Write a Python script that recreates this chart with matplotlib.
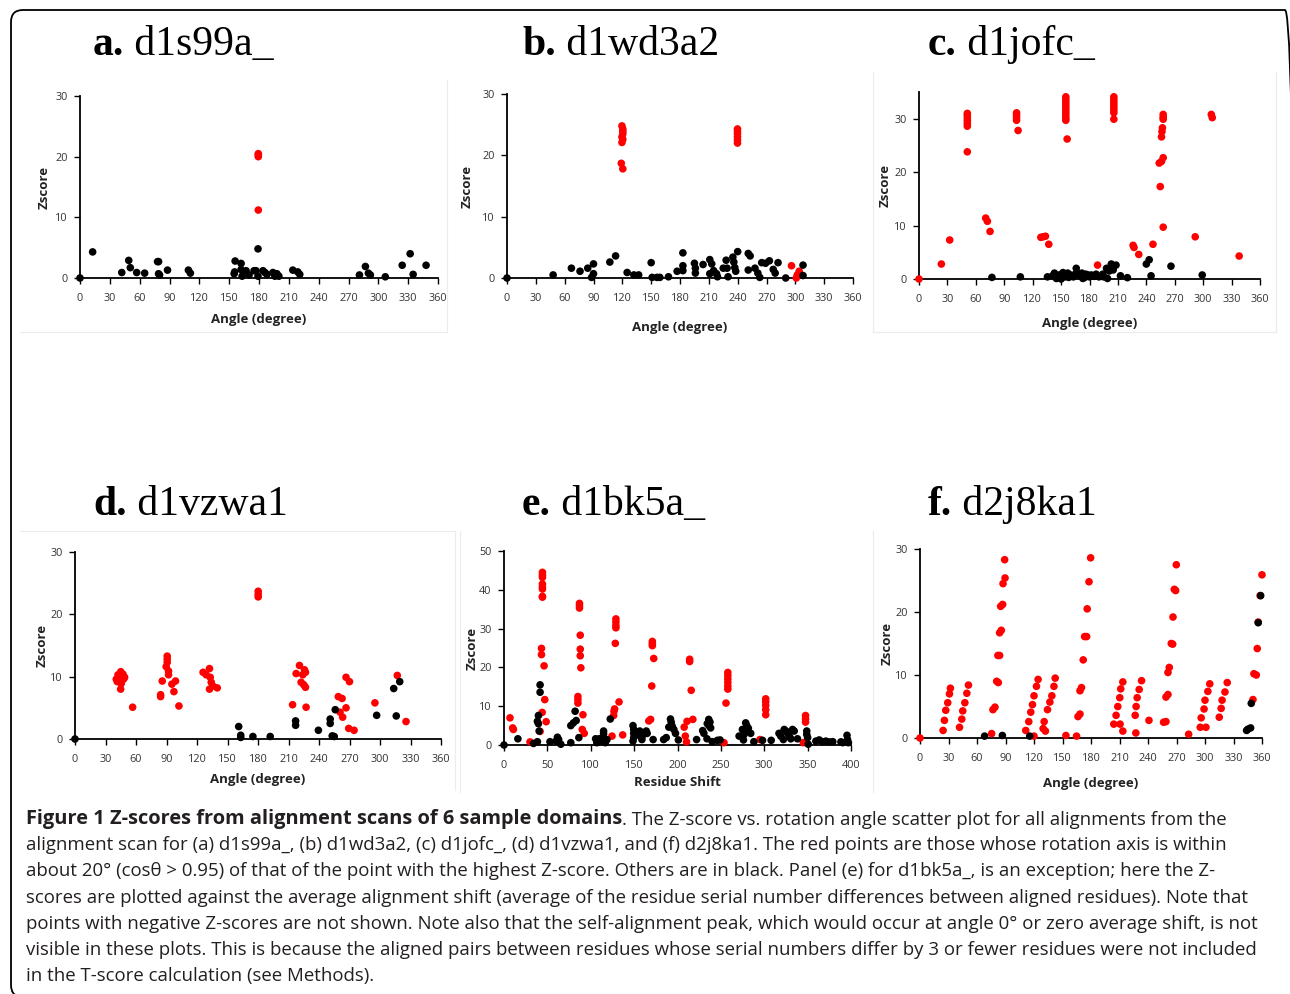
import matplotlib
matplotlib.use("Agg")
import matplotlib.pyplot as plt
from matplotlib.patches import FancyBboxPatch
from matplotlib.transforms import IdentityTransform

# ---- data ----
# panel a: d1s99a_
a_red_x = [179.3, 179.3, 179.3, 179.3]
a_red_y = [20.5, 20.3, 20.0, 11.2]
a_black_x = [0, 12.7, 42, 49, 50.6, 57, 65, 78, 79, 79, 80, 88, 109, 111, 155, 156, 155.5, 162, 162, 163,
             167, 170, 175, 177, 179, 179, 184, 186, 188, 194, 196, 198, 200, 214, 219, 221, 281, 287, 290, 292,
             307, 324, 332, 335, 348]
a_black_y = [0, 4.3, 0.9, 2.9, 1.7, 0.9, 0.8, 2.7, 2.7, 0.7, 0.5, 1.3, 1.3, 0.8, 0.7, 2.8, 1.0, 2.4, 1.4, 0.3,
             1.2, 0.5, 1.2, 1.2, 4.8, 0.3, 1.2, 0.9, 0.6, 0.9, 0.3, 0.7, 0.3, 1.3, 1.0, 0.6, 0.5, 1.9, 0.8, 0.5,
             0.2, 2.1, 4.0, 0.6, 2.1]

# panel b: d1wd3a2
b_red_x = [119.6, 120.5, 120.5, 120.5, 119.6, 120.5, 119.6, 118.9, 120.5,
           239.8, 239.8, 239.8, 239.8, 239.8, 239.8, 296, 304, 302, 301]
b_red_y = [24.8, 24.3, 23.9, 23.5, 23.0, 22.6, 22.1, 18.7, 17.8,
           24.3, 23.9, 23.5, 23.0, 22.5, 22.0, 2.0, 1.1, 0.5, 0.0]
b_black_x = [0, 48, 67, 76, 84, 90, 90, 88, 107, 113, 125, 132, 137, 150, 151, 156, 159, 168, 177, 183,
             183, 183, 195, 196, 196, 204, 211, 213, 211, 215, 218, 219, 225, 228, 229, 230, 235, 236, 237, 238,
             240, 251, 253, 251, 258, 261, 263, 265, 269, 273, 277, 279, 282, 290, 308, 308]
b_black_y = [0, 0.5, 1.6, 1.1, 1.6, 2.3, 0.7, 0.1, 2.6, 3.6, 0.9, 0.5, 0.5, 2.5, 0.1, 0.1, 0.1, 0.2, 1.1, 4.1,
             2.0, 1.2, 2.4, 1.6, 0.8, 2.2, 3.0, 2.3, 0.7, 1.2, 0.7, 0.2, 1.6, 2.9, 1.6, 0.2, 3.4, 2.6, 1.7, 1.1,
             4.3, 4.0, 3.6, 1.3, 1.6, 0.8, 0.1, 2.5, 2.4, 2.8, 1.4, 0.8, 2.5, 0.0, 2.1, 0.4]

# panel c: d1jofc_
c_red_x = [0, 23.6, 32.4,
           51, 51, 51, 51, 51, 51, 51,
           70.4, 72.2, 75,
           103, 103, 103, 103, 104.6,
           128.6, 131, 133.5, 137,
           155, 155, 155, 155, 155, 155, 155, 155, 155, 155, 156.4,
           205.7, 205.7, 205.7, 205.7, 205.7, 205.7, 205.7, 205.7,
           188.5,
           226, 227, 232, 247,
           257.8, 257.8, 257.8, 257, 256.5, 256, 257.8, 256, 253.6, 254.7, 257.8,
           291.6, 308.6, 309.6, 338]
c_red_y = [0, 2.8, 7.3,
           31.0, 30.6, 30.1, 29.6, 29.1, 28.6, 23.8,
           11.4, 10.8, 8.9,
           31.1, 30.7, 30.2, 29.7, 27.8,
           7.8, 7.9, 8.0, 6.5,
           34.1, 33.6, 33.1, 32.6, 32.1, 31.6, 31.1, 30.6, 30.1, 29.7, 26.2,
           34.1, 33.6, 33.1, 32.6, 32.1, 31.6, 31.1, 29.9,
           2.6,
           6.3, 5.9, 4.6, 6.5,
           30.8, 30.3, 29.9, 28.3, 27.6, 26.6, 22.7, 22.0, 21.7, 17.3, 9.7,
           7.9, 30.8, 30.2, 4.3]
c_black_x = [77, 107, 135.6, 141, 143, 145, 148, 150, 154, 157, 160, 163, 166, 167, 170, 172, 173, 176, 178.6, 182,
             187, 190, 194, 198, 199, 200.8, 203, 205, 208, 212.7, 220, 240, 243, 245, 266, 299,
             152, 158, 165, 175, 180, 185, 195]
c_black_y = [0.3, 0.4, 0.4, 0.6, 1.1, 0.1, 0.75, 0, 0.4, 1.1, 0.75, 0.4, 2.0, 1.1, 0.6, 1.1, 0.1, 0.9, 0.75, 0.75,
             0.9, 0.4, 0.9, 2.0, 0.1, 1.5, 2.8, 1.7, 2.6, 0.6, 0.25, 2.8, 3.6, 0.6, 2.4, 0.75,
             1.2, 0.3, 0.9, 0.3, 0.4, 0.5, 0.4]

# panel d: d1vzwa1
d_red_x = [45, 42.3, 47.2, 40.6, 43.9, 48.8, 41.6, 45.5, 44.9, 47.8, 56.7,
           84.2, 84.2, 85.8, 90.7, 90.7, 90.7, 89.7, 92, 92, 95.3, 98.9, 97.3, 102.2,
           126, 129, 132.3, 133, 134, 132.3, 135.6, 139.9,
           180.2, 180.2, 180.2,
           214, 217.5, 220.8, 222.4, 225, 225.7, 224, 226.7, 226.7, 227.3,
           259, 262.7, 260.7, 263.3, 266.6, 266.6, 270, 269.2, 274.5,
           295, 317, 325.6]
d_red_y = [10.8, 10.3, 10.4, 9.6, 9.4, 9.9, 9.2, 8.9, 8.0, 9.6, 5.1,
           7.1, 6.8, 9.3, 13.3, 12.8, 12.3, 11.6, 10.9, 10.3, 8.8, 9.3, 7.6, 5.3,
           10.7, 10.3, 11.3, 9.9, 9.1, 8.0, 8.5, 8.2,
           23.7, 23.2, 22.8,
           5.5, 10.5, 11.8, 9.1, 8.7, 11.1, 10.3, 10.7, 8.3, 5.1,
           6.8, 6.5, 4.3, 3.5, 5.0, 9.9, 9.2, 1.7, 1.4,
           5.8, 10.2, 2.8]
d_black_x = [0, 161, 163, 163, 175, 192, 217, 217, 239.4, 251, 251, 253, 255, 256, 296.7, 313.5, 319.4, 316]
d_black_y = [0, 2.0, 0.6, 0.25, 0.4, 0.4, 2.9, 2.2, 1.4, 3.2, 2.5, 0.5, 0.4, 4.7, 3.8, 8.1, 9.2, 3.7]

# panel e: d1bk5a_ (against residue shift)
e_red_x = [44.3, 44.3, 44.3, 44.3, 44.3, 44.3, 44.3, 44.3, 43.2, 43.2, 46.2, 47, 44, 48.6, 41.6, 6.9, 10, 10.8, 30,
           87, 87, 87, 87.9, 87.9, 87.9, 88.6, 85.2, 85.2, 85.2, 91, 90.2, 92.5,
           129, 129, 129, 129, 128.3, 132.6, 127.5, 126.8, 126.4, 124.5, 136.8,
           171, 171, 171, 172.6, 170.3, 169, 166.9,
           214, 214, 215.8, 217.7, 211, 207.7, 209, 210.4,
           258, 258, 258, 258, 258, 258, 255.9, 253.6,
           301.7, 301.7, 301.7, 301.7, 301.7, 295,
           347.6, 347.6, 347.6, 345]
e_red_y = [44.5, 43.8, 43.2, 41.5, 40.8, 40.2, 38.3, 38.1, 24.9, 23.3, 20.4, 11.7, 8.4, 6.0, 3.5, 7.0, 4.4, 4.0, 0.8,
           36.5, 35.9, 35.3, 28.3, 24.7, 23.0, 19.9, 12.5, 11.7, 10.8, 7.8, 4.0, 3.0,
           32.5, 31.7, 30.8, 30.2, 26.2, 11.1, 9.3, 8.7, 7.6, 2.3, 2.6,
           26.7, 26.1, 25.6, 22.3, 15.2, 6.6, 6.2,
           22.1, 21.5, 14.1, 6.6, 6.1, 4.6, 2.3, 0.8,
           18.7, 17.9, 17.0, 16.1, 15.2, 14.4, 10.8, 0.6,
           11.9, 11.1, 10.2, 9.1, 7.8, 1.4,
           7.6, 6.7, 5.9, 0.6]
e_black_x = [0, 16, 34, 38.5, 41.6, 41.6, 39.7, 38.5, 39.7, 40.5,
             53, 61.6, 63, 60, 65.5, 77, 82, 83.2, 80, 77,
             86.3, 105.6, 107, 109.8, 112, 114.8, 116.8, 118.7, 114.8, 114.8,
             122.5, 148.7, 149.5, 149.5, 149.5, 148.7, 155.3, 157, 159, 161,
             156.5, 164, 165, 171.9, 184, 187, 191.9, 192.7, 193.8, 195.8,
             197.7, 190, 201, 222, 229, 230.4, 234, 236, 237.4, 236.2,
             238.2, 234.3, 240, 245.9, 249, 271, 276, 278.6, 279.8, 281.7,
             278.6, 276.7, 274.8, 284.4, 288, 298, 308, 317, 319, 322,
             323, 325, 327, 329, 330.6, 332.6, 334.5, 338.3, 349, 349,
             350, 350.7, 359.5, 363.4, 367, 371, 375, 379, 388.4, 390.4,
             395.4, 396, 397]
e_black_y = [0, 1.6, 0.4, 0.85, 15.5, 13.6, 7.6, 6.1, 5.5, 3.6,
             0.85, 2.0, 1.4, 1.0, 0.2, 0.6, 8.7, 6.3, 5.7, 5.0,
             1.9, 1.6, 0.6, 1.6, 1.0, 1.9, 0.6, 1.4, 3.6, 2.9,
             6.7, 5.0, 4.0, 3.0, 1.9, 1.0, 3.0, 2.3, 1.4, 2.7,
             3.6, 3.6, 3.0, 1.4, 1.4, 1.9, 6.7, 5.9, 4.9, 4.0,
             3.0, 4.6, 1.3, 1.4, 3.7, 3.0, 1.6, 6.6, 5.9, 5.0,
             4.4, 5.5, 0.85, 1.2, 1.3, 2.3, 1.3, 5.7, 5.0, 4.3,
             3.6, 2.7, 4.0, 3.0, 0.85, 1.2, 1.2, 3.0, 2.3, 1.4,
             4.0, 3.6, 3.0, 2.3, 1.6, 4.0, 3.6, 1.6, 3.6, 2.7,
             1.9, 0.2, 1.0, 1.3, 0.85, 1.0, 0.8, 0.85, 0.8, 0.6,
             2.5, 1.4, 0.6]

# panel f: d2j8ka1
f_red_x = [0, 24.3, 25.7, 27.1, 29.2, 31, 32, 41.6, 44, 45, 47.2, 49.3, 51,
           75.4, 76.8, 78.9, 80.7, 82.4, 82, 83.8, 83.8, 85.6, 84.9, 87, 87.4, 89.5, 89.1,
           111.3, 114.5, 116.6, 118.4, 120, 122.6, 124.3, 120,
           129.6, 130.7, 132, 134.2, 136.7, 138.8, 141, 142.3,
           153.6,
           164.8, 166.3, 168.4, 168.4, 170, 171.8, 173.3, 175.4, 176, 177.9, 179.6,
           204, 206.4, 208.2, 210.3, 211.3, 213.5, 210.6, 213.5,
           226.5, 227.5, 228.6, 230.7, 233.2, 227.2,
           241,
           256.4, 258.9, 258.9, 261, 261, 262.4, 264.5, 266, 266.3, 267.7, 269.1, 269.8,
           282.8,
           295, 301, 296, 299, 300, 303, 305,
           315, 317, 318, 321, 323.4,
           350.5, 351.5, 354, 355, 356, 358, 360]
f_red_y = [0, 1.2, 2.8, 4.4, 5.6, 7.0, 7.9, 1.7, 3.0, 4.3, 5.6, 7.1, 8.4,
           0.7, 4.5, 4.9, 9.0, 8.8, 13.1, 13.1, 16.7, 17.1, 20.9, 21.2, 24.5, 25.4, 28.3,
           1.2, 2.6, 4.1, 5.3, 6.7, 8.2, 9.3, 0.3,
           1.5, 2.6, 1.1, 4.5, 5.7, 6.7, 8.2, 9.5,
           0.4,
           0.3, 3.4, 3.8, 7.5, 8.0, 12.4, 16.1, 16.1, 20.5, 24.8, 28.6,
           2.2, 3.6, 5.0, 6.4, 7.8, 8.9, 2.2, 1.1,
           3.6, 5.0, 6.4, 7.7, 9.1, 0.8,
           2.8,
           2.5, 2.6, 6.5, 6.9, 10.4, 11.2, 15.0, 14.9, 19.2, 23.6, 23.4, 27.5,
           0.6,
           1.7, 1.7, 3.2, 4.6, 6.0, 7.4, 8.6,
           3.3, 4.7, 6.0, 7.3, 8.8,
           6.1, 10.2, 10.0, 14.2, 18.4, 22.6, 25.9]
f_black_x = [68, 86.7, 115.5, 343.8, 345.2, 348, 348.7, 356, 358.6]
f_black_y = [0.3, 0.4, 0.3, 1.2, 1.4, 1.6, 5.5, 18.3, 22.6]

angle_ticks = list(range(0, 361, 30))
shift_ticks = list(range(0, 401, 50))

caption_bold = "Figure 1 Z-scores from alignment scans of 6 sample domains"
caption_lines = [
    ". The Z-score vs. rotation angle scatter plot for all alignments from the",
    "alignment scan for (a) d1s99a_, (b) d1wd3a2, (c) d1jofc_, (d) d1vzwa1, and (f) d2j8ka1. The red points are those whose rotation axis is within",
    "about 20\u00b0 (cos\u03b8 > 0.95) of that of the point with the highest Z-score. Others are in black. Panel (e) for d1bk5a_, is an exception; here the Z-",
    "scores are plotted against the average alignment shift (average of the residue serial number differences between aligned residues). Note that",
    "points with negative Z-scores are not shown. Note also that the self-alignment peak, which would occur at angle 0\u00b0 or zero average shift, is not",
    "visible in these plots. This is because the aligned pairs between residues whose serial numbers differ by 3 or fewer residues were not included",
    "in the T-score calculation (see Methods).",
]

W, H = 1290, 994
plt.rcParams["font.family"] = "Open Sans"

fig = plt.figure(figsize=(W / 100, H / 100), dpi=100)
fig.patch.set_facecolor("white")

# overlay in pixel coordinates (y down) for titles, caption and frame
over = fig.add_axes([0, 0, 1, 1])
over.set_xlim(0, W)
over.set_ylim(H, 0)
over.set_axis_off()


def two_part(x, y, bold, rest, size, family, color="black", bold_size=None):
    t = over.text(x, y, bold, fontsize=bold_size or size, fontweight="bold", family=family,
                  color=color, va="baseline", ha="left")
    over.annotate(rest, xy=(1, 0), xycoords=t, fontsize=size, family=family,
                  color=color, va="bottom", ha="left")


def panel(box, title, title_xy, rx, ry, bx, by, xlim, ylim, xticks, yticks,
          xlabel, xgap, ygap):
    x0, x1, ytop, ybot = box
    ax = fig.add_axes([x0 / W, 1 - ybot / H, (x1 - x0) / W, (ybot - ytop) / H])
    ax.scatter(rx, ry, s=30, c="#ff0000", edgecolors="none", clip_on=False, zorder=3)
    ax.scatter(bx, by, s=30, c="black", edgecolors="none", clip_on=False, zorder=4)
    ax.set_xlim(*xlim)
    ax.set_ylim(*ylim)
    ax.set_xticks(xticks)
    ax.set_yticks(yticks)
    for s in ("top", "right"):
        ax.spines[s].set_visible(False)
    for s in ("left", "bottom"):
        ax.spines[s].set_linewidth(1.3)
    ax.patch.set_alpha(0)
    ax.tick_params(axis="x", direction="out", length=4, width=1, pad=7,
                   labelsize=7.8, labelcolor="#333333")
    ax.tick_params(axis="y", direction="out", length=4, width=1, pad=5,
                   labelsize=7.8, labelcolor="#333333")
    ax.set_xlabel(xlabel, fontsize=9.5, fontweight="bold", color="#222222")
    ax.set_ylabel("Zscore", fontsize=9.5, fontweight="bold", color="#222222")
    ax.xaxis.set_label_coords(0.5, -xgap / (ybot - ytop))
    ax.yaxis.set_label_coords(-ygap / (x1 - x0), 0.5)
    ax.xaxis.label.set_va("center")
    ax.yaxis.label.set_va("center")
    letter, name = title
    two_part(title_xy[0], title_xy[1], letter, " " + name, 30, "Liberation Serif")
    return ax


panel((80, 438, 96, 278), ("a.", "d1s99a_"), (93, 55), a_red_x, a_red_y, a_black_x, a_black_y,
      (0, 360), (0, 30), angle_ticks, [0, 10, 20, 30], "Angle (degree)", 41, 36)
panel((507, 853, 94, 278), ("b.", "d1wd3a2"), (522, 55), b_red_x, b_red_y, b_black_x, b_black_y,
      (0, 360), (0, 30), angle_ticks, [0, 10, 20, 30], "Angle (degree)", 49, 40)
panel((919, 1260, 92, 279), ("c.", "d1jofc_"), (928, 55), c_red_x, c_red_y, c_black_x, c_black_y,
      (0, 360), (0, 35), angle_ticks, [0, 10, 20, 30], "Angle (degree)", 45, 34)
panel((75, 441, 552, 739), ("d.", "d1vzwa1"), (93, 515), d_red_x, d_red_y, d_black_x, d_black_y,
      (0, 360), (0, 30), angle_ticks, [0, 10, 20, 30], "Angle (degree)", 41, 33)
panel((504, 851, 551, 745), ("e.", "d1bk5a_"), (522, 515), e_red_x, e_red_y, e_black_x, e_black_y,
      (0, 400), (0, 50), shift_ticks, [0, 10, 20, 30, 40, 50], "Residue Shift", 37, 32)
panel((920, 1262, 549, 738), ("f.", "d2j8ka1"), (928, 515), f_red_x, f_red_y, f_black_x, f_black_y,
      (0, 360), (0, 30), angle_ticks, [0, 10, 20, 30], "Angle (degree)", 45, 33)

# faint panel frames
for xs, ys in [((447, 447), (80, 332)), ((20, 447), (332, 332)),
               ((873, 873), (72, 332)), ((873, 1276), (332, 332)), ((1276, 1276), (72, 332)),
               ((455, 455), (531, 790)), ((20, 455), (531, 531)),
               ((460, 460), (531, 792)), ((873, 873), (531, 792))]:
    over.plot(xs, ys, color="#ececec", lw=0.8)

# caption
cap_size = 13.4
base0, step = 824, 26.2
two_part(26, base0, caption_bold, caption_lines[0], cap_size, "Open Sans", "#231f20", bold_size=14.4)
for i, line in enumerate(caption_lines[1:], start=1):
    over.text(26, base0 + i * step, line, fontsize=cap_size, family="Open Sans",
              color="#231f20", va="baseline", ha="left")

# outer rounded frame (pixel coordinates, origin bottom-left); right side runs off the page
frame = FancyBboxPatch((11, -3), 1286, H - 10 + 3, boxstyle="round,pad=0,rounding_size=12",
                       transform=IdentityTransform(), fill=False, edgecolor="black", lw=1.3)
fig.patches.append(frame)

fig.savefig("out.png", dpi=100)
